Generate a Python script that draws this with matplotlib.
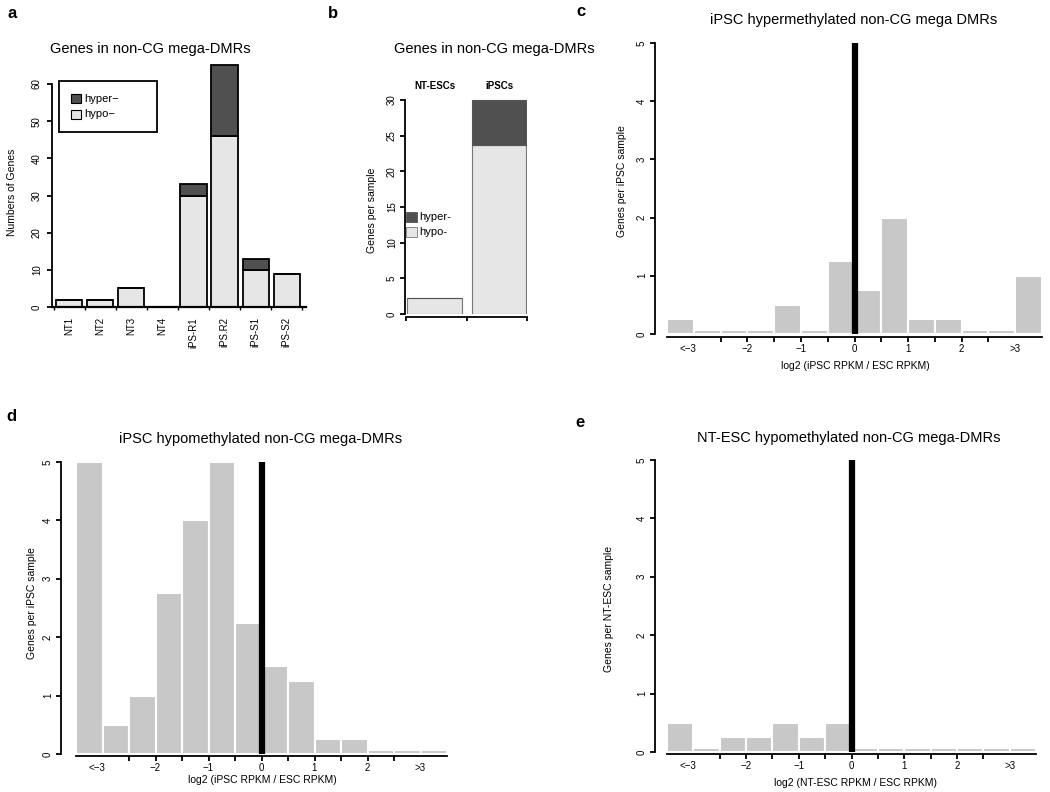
import matplotlib
matplotlib.use('Agg')
import matplotlib.pyplot as plt
from matplotlib.patches import Rectangle
import numpy as np

plt.rcParams['font.family'] = ['Liberation Sans', 'DejaVu Sans']

W, H = 1050, 792
PT = 72 / 100  # points per pixel at dpi 100

# panel a: genes per sample
samples = ['NT1', 'NT2', 'NT3', 'NT4', 'iPS-R1', 'iPS.R2', 'iPS-S1', 'iPS-S2']
hypo_a = [2, 2, 5, 0, 30, 46, 10, 9]
hyper_a = [0, 0, 0, 0, 3, 19, 3, 0]

# panel b: genes per sample, grouped
groups_b = ['NT-ESCs', 'iPSCs']
hypo_b = [2.25, 23.75]
hyper_b = [0, 6.25]

# panels c-e: histograms of log2 expression ratio
bin_edges = np.arange(-3.5, 3.51, 0.5)
hyper_ipsc = [0.25, 0, 0, 0, 0.5, 0, 1.25, 0.75, 2.0, 0.25, 0.25, 0, 0, 1.0]
hypo_ipsc = [5, 0.5, 1.0, 2.75, 4.0, 5.0, 2.25, 1.5, 1.25, 0.25, 0.25, 0, 0, 0]
hypo_ntesc = [0.5, 0, 0.25, 0.25, 0.5, 0.25, 0.5, 0, 0, 0, 0, 0, 0, 0]

HYPO = '#e6e6e6'
HYPER = '#505050'
HIST = '#c8c8c8'


def px_axes(fig, x0, y0, x1, y1):
    return fig.add_axes([x0 / W, 1 - y1 / H, (x1 - x0) / W, (y1 - y0) / H])


def ftext(fig, x, y, s, **kw):
    kw.setdefault('ha', 'center')
    kw.setdefault('va', 'center')
    fig.text(x / W, 1 - y / H, s, **kw)


def frect(fig, x0, y0, x1, y1, **kw):
    fig.add_artist(Rectangle((x0 / W, 1 - y1 / H), (x1 - x0) / W, (y1 - y0) / H,
                             transform=fig.transFigure, **kw))


def r_style(ax, ytop, left_out=0, bottom_out=0, lw=1.3, ylab_gap=13):
    # R-like axes: only left/bottom, vertical y tick labels (offsets in pixels)
    for s in ['top', 'right']:
        ax.spines[s].set_visible(False)
    ax.spines['left'].set_position(('outward', left_out * PT))
    ax.spines['bottom'].set_position(('outward', bottom_out * PT))
    ax.spines['left'].set_bounds(0, ytop)
    ax.spines['left'].set_linewidth(lw)
    ax.spines['bottom'].set_linewidth(lw)
    ax.tick_params(axis='y', labelsize=7, length=5 * PT, width=lw, pad=(ylab_gap - 5) * PT)
    plt.setp(ax.get_yticklabels(), rotation=90, ha='center', va='center')


def draw_hist(ax, values, ytop=5):
    shown = np.maximum(values, 0.07)
    ax.bar(bin_edges[:-1], shown, width=0.5, align='edge', color=HIST,
           edgecolor='white', linewidth=1.5)
    ax.plot([0, 0], [0, ytop], color='black', lw=4.5, solid_capstyle='butt')
    ax.set_xlim(-3.5, 3.5)
    ax.set_ylim(0, ytop)
    ax.set_yticks(range(0, ytop + 1))
    ticks = bin_edges[2:-2]
    labels = [('%d' % t).replace('-', '\u2212') if t == int(t) else '' for t in ticks]
    ax.set_xticks(ticks, labels)
    ax.set_xticks([-3.1, 3.0], ['<\u22123', '>3'], minor=True)
    ax.tick_params(axis='x', which='major', length=5 * PT, width=1.3, labelsize=7, pad=2 * PT)
    ax.tick_params(axis='x', which='minor', length=0, labelsize=7, pad=7 * PT)


fig = plt.figure(figsize=(10.5, 7.92), dpi=100)

# ---- panel a
ax = px_axes(fig, 52, 61.7, 306, 307)
x = np.arange(len(samples))
ax.bar(x, hypo_a, width=0.84, color=HYPO, edgecolor='black', linewidth=1.3)
ax.bar(x, hyper_a, width=0.84, bottom=hypo_a, color=HYPER, edgecolor='black', linewidth=1.3)
ax.set_xlim(-0.55, 7.62)
ax.set_ylim(0, 66)
ax.set_yticks(range(0, 61, 10))
r_style(ax, 60, ylab_gap=15)
ax.spines['bottom'].set_linewidth(1.6)
ax.set_xticks(x, samples, rotation=90)
ax.set_xticks(np.arange(-0.5, 8, 1), minor=True)
ax.tick_params(axis='x', which='major', length=0, labelsize=7, pad=10 * PT)
ax.tick_params(axis='x', which='minor', length=3 * PT, width=1)

frect(fig, 59, 81, 157, 132, facecolor='white', edgecolor='black', lw=1.3)
frect(fig, 71, 94, 81, 103, facecolor=HYPER, edgecolor='black', lw=0.8)
frect(fig, 71, 110, 81, 118.5, facecolor=HYPO, edgecolor='black', lw=0.8)
ftext(fig, 84, 98.5, 'hyper\u2212', ha='left', fontsize=8)
ftext(fig, 84, 114, 'hypo\u2212', ha='left', fontsize=8)
ftext(fig, 150, 49, 'Genes in non-CG mega-DMRs', fontsize=10.5)
ftext(fig, 12, 192, 'Numbers of Genes', rotation=90, fontsize=7.5)
ftext(fig, 12, 13, 'a', fontsize=12, fontweight='bold')

# ---- panel b
ax = px_axes(fig, 405, 97.9, 527, 314)
xb = np.arange(len(groups_b))
ax.bar(xb, hypo_b, width=0.85, color=HYPO, edgecolor='#777777', linewidth=0.8)
ax.bar(xb, hyper_b, width=0.85, bottom=hypo_b, color=HYPER, edgecolor='#555555', linewidth=0.8)
ax.set_xlim(-0.457, 1.434)
ax.set_ylim(0, 30.3)
ax.set_yticks(range(0, 31, 5))
r_style(ax, 30, bottom_out=3)
ax.spines['bottom'].set_bounds(-0.44, 1.43)
ax.set_xticks([-0.44, 0.5, 1.43], ['', '', ''])
ax.tick_params(axis='x', length=4 * PT, width=1.3)
for xi, g in zip(xb, groups_b):
    ax.text(xi, 31.2, g, ha='center', va='bottom', fontsize=7, fontweight='bold')

frect(fig, 406, 212, 417, 222, facecolor=HYPER, edgecolor='#555555', lw=0.6)
frect(fig, 406, 227, 417, 237, facecolor=HYPO, edgecolor='#777777', lw=0.6)
ftext(fig, 419, 217, 'hyper-', ha='left', fontsize=8)
ftext(fig, 419, 232, 'hypo-', ha='left', fontsize=8)
ftext(fig, 494, 49, 'Genes in non-CG mega-DMRs', fontsize=10.5)
ftext(fig, 372, 210, 'Genes per sample', rotation=90, fontsize=7.5)
ftext(fig, 333, 13, 'b', fontsize=12, fontweight='bold')

# ---- panel c
ax = px_axes(fig, 667, 43, 1042, 334)
draw_hist(ax, hyper_ipsc)
r_style(ax, 5, left_out=12, bottom_out=3)
ftext(fig, 854, 20, 'iPSC hypermethylated non-CG mega DMRs', fontsize=10.5)
ftext(fig, 622, 181, 'Genes per iPSC sample', rotation=90, fontsize=7.5)
ftext(fig, 855, 366, 'log2 (iPSC RPKM / ESC RPKM)', fontsize=7.5)
ftext(fig, 581, 11, 'c', fontsize=12, fontweight='bold')

# ---- panel d
ax = px_axes(fig, 76, 462, 447, 754)
draw_hist(ax, hypo_ipsc)
r_style(ax, 5, left_out=15, bottom_out=2)
ftext(fig, 261, 439, 'iPSC hypomethylated non-CG mega-DMRs', fontsize=10.5)
ftext(fig, 32, 603, 'Genes per iPSC sample', rotation=90, fontsize=7.5)
ftext(fig, 262, 780, 'log2 (iPSC RPKM / ESC RPKM)', fontsize=7.5)
ftext(fig, 11, 416, 'd', fontsize=12, fontweight='bold')

# ---- panel e
ax = px_axes(fig, 667, 460, 1036, 752)
draw_hist(ax, hypo_ntesc)
r_style(ax, 5, left_out=12, bottom_out=2)
ftext(fig, 849, 438, 'NT-ESC hypomethylated non-CG mega-DMRs', fontsize=10.5)
ftext(fig, 609, 609, 'Genes per NT-ESC sample', rotation=90, fontsize=7.5)
ftext(fig, 855, 783, 'log2 (NT-ESC RPKM / ESC RPKM)', fontsize=7.5)
ftext(fig, 580, 422, 'e', fontsize=12, fontweight='bold')

fig.savefig('out.png', dpi=100)
